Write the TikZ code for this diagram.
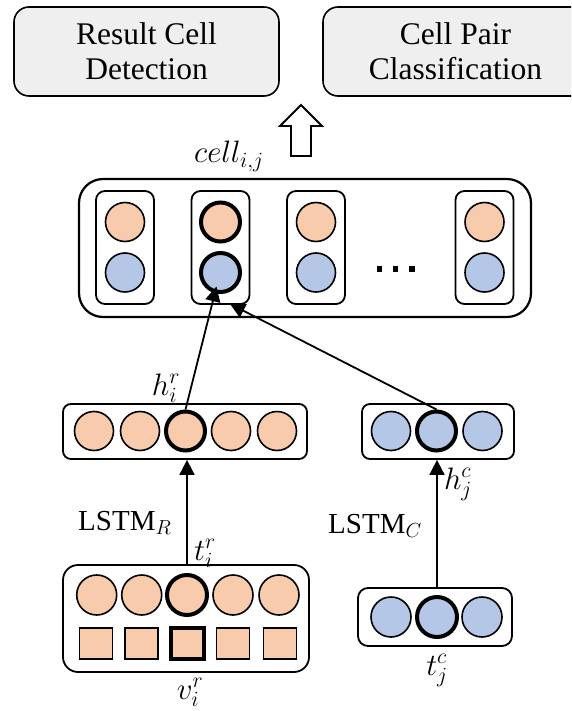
\RequirePackage{fix-cm}
\documentclass[tikz,border=0pt]{standalone}
\usepackage{fontspec}
\setmainfont{Liberation Serif}
\usetikzlibrary{arrows.meta,calc}
\definecolor{orfill}{HTML}{F8CBAD}
\definecolor{blfill}{HTML}{B4C7E7}
\definecolor{topfill}{HTML}{EFEFEF}
\begin{document}
\begin{tikzpicture}[x=1pt,y=-1pt,
 topbox/.style={draw, rounded corners=15pt, fill=topfill, line width=1.6pt, minimum width=265pt, minimum height=89pt, inner sep=0pt, align=center, font=\fontsize{31.5}{35}\selectfont},
 outerbox/.style={draw, rounded corners=24pt, line width=2.2pt, minimum width=452pt, minimum height=138pt, inner sep=0pt},
 colbox/.style={draw, rounded corners=9pt, line width=1.8pt, minimum width=58pt, minimum height=113pt, inner sep=0pt},
 vecbox/.style={draw, rounded corners=8pt, line width=1.8pt, inner sep=0pt},
 orc/.style={circle, draw, fill=orfill, line width=1.6pt, minimum size=39pt, inner sep=0pt},
 blc/.style={circle, draw, fill=blfill, line width=1.6pt, minimum size=39pt, inner sep=0pt},
 ors/.style={rectangle, draw, fill=orfill, line width=1.6pt, minimum width=33pt, minimum height=31pt, inner sep=0pt},
 hl/.style={line width=4pt},
 conn/.style={line width=1.8pt, -{Triangle[length=15pt,width=15pt]}},
 mlabel/.style={font=\fontsize{31}{34}\selectfont, inner sep=0pt, anchor=base},
 tlabel/.style={font=\fontsize{29}{32}\selectfont, inner sep=0pt, anchor=base west},
 dotsq/.style={fill=black, minimum size=5.5pt, inner sep=0pt}
]
\useasboundingbox (0,0) rectangle (571,711);
\clip (0,0) rectangle (571,711);

% top boxes
\node[topbox] (rcd) at (146.5,51.5) {Result Cell\\Detection};
\node[topbox] (cpc) at (455.5,51.5) {Cell Pair\\Classification};

% hollow up arrow
\draw[line width=1.8pt, line join=miter] (291,156) -- (291,126) -- (280,126) -- (301,105) -- (322,126) -- (311,126) -- (311,156) -- cycle;

\node[mlabel] (celllab) at (229,163) {$cell_{i,j}$};

% cell container
\node[outerbox] (cont) at (305,248) {};
\foreach \i/\x in {1/125,2/220.5,3/316,4/484.5}{
  \node[colbox] (col\i) at (\x,247.5) {};
}
\node[orc] (co1) at (125,222) {};
\node[blc] (cb1) at (125,272.5) {};
\node[orc,hl] (co2) at (220.5,222) {};
\node[blc,hl] (cb2) at (220.5,272.5) {};
\node[orc] (co3) at (316,222) {};
\node[blc] (cb3) at (316,272.5) {};
\node[orc] (co4) at (484.5,222) {};
\node[blc] (cb4) at (484.5,272.5) {};
\node[dotsq] (d1) at (379.5,269) {};
\node[dotsq] (d2) at (395.5,269) {};
\node[dotsq] (d3) at (412,269) {};

% h row vectors
\node[vecbox, minimum width=244pt, minimum height=55pt] (hrbox) at (185,431.5) {};
\node[orc] (hr1) at (94,431) {};
\node[orc] (hr2) at (140,431) {};
\node[orc,hl] (hr3) at (185.5,431) {};
\node[orc] (hr4) at (231,431) {};
\node[orc] (hr5) at (277,431) {};

\node[vecbox, minimum width=152pt, minimum height=55pt] (hcbox) at (438,431.5) {};
\node[blc] (hc1) at (391,431) {};
\node[blc,hl] (hc2) at (436.5,431) {};
\node[blc] (hc3) at (482.5,431) {};

% bottom left box
\node[vecbox, rounded corners=15pt, minimum width=246pt, minimum height=107pt] (trbox) at (186,618.5) {};
\node[orc, minimum size=40pt] (tr1) at (96.7,595) {};
\node[orc, minimum size=40pt] (tr2) at (141.7,595) {};
\node[orc, minimum size=40pt, hl] (tr3) at (187,595) {};
\node[orc, minimum size=40pt] (tr4) at (233,595) {};
\node[orc, minimum size=40pt] (tr5) at (279,595) {};
\node[ors] (vr1) at (96,643.5) {};
\node[ors] (vr2) at (141.5,643.5) {};
\node[ors,hl] (vr3) at (187.5,643.5) {};
\node[ors] (vr4) at (233,643.5) {};
\node[ors] (vr5) at (280,643.5) {};

% bottom right box
\node[vecbox, rounded corners=10pt, minimum width=154pt, minimum height=58pt] (tcbox) at (435,617) {};
\node[blc, minimum size=40pt] (tc1) at (391,617) {};
\node[blc, minimum size=40pt, hl] (tc2) at (437,617) {};
\node[blc, minimum size=40pt] (tc3) at (482,617) {};

% connectors
\draw[conn] (tr3 |- trbox.north) -- (tr3 |- hrbox.south);
\draw[conn] (tc2 |- tcbox.north) -- (tc2 |- hcbox.south);
\draw[conn] (hr3.north) -- ($(cb2.center)+(-4,14)$);
\draw[conn] (hc2.north) -- ($(col2.south)+(9.5,-1)$);

% labels
\node[mlabel] (hrlab) at (166,395) {$h_i^r$};
\node[mlabel] (hclab) at (458,489) {$h_j^c$};
\node[mlabel] (trlab) at (205,560) {$t_i^r$};
\node[mlabel] (vrlab) at (190,699) {$v_i^r$};
\node[mlabel] (tclab) at (437,675) {$t_j^c$};
\node[tlabel] (lstmr) at (78,530) {LSTM$_R$};
\node[tlabel] (lstmc) at (328,533) {LSTM$_C$};
\end{tikzpicture}
\end{document}
